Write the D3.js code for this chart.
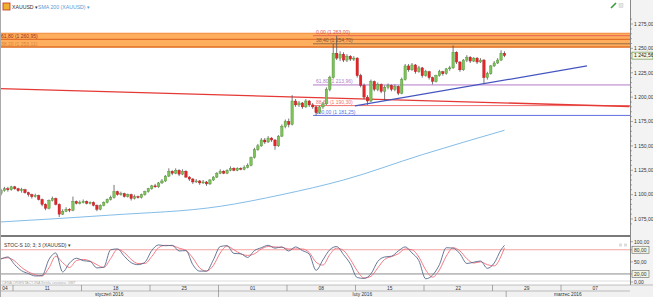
<!DOCTYPE html>
<html><head><meta charset="utf-8">
<script src="https://cdnjs.cloudflare.com/ajax/libs/d3/7.8.5/d3.min.js"></script>
<style>
body{margin:0;background:#fff;}
svg{display:block;font-family:"Liberation Sans",Arial,sans-serif;}
</style></head><body>
<script>
// candles, 4 per trading day, first one on Fri 8 Jan 2016
const opens = [1101,1104,1106,1105,1108,1106,1104,1105,1102,1100,
1098,1099,1095,1090,1086,1094,1096,1090,1080,1083,
1085,1084,1093,1091,1092,1093,1091,1092,1089,1085,
1089,1092,1095,1097,1103,1100,1101,1098,1100,1096,
1098,1097,1100,1103,1106,1109,1108,1112,1114,1119,
1124,1122,1125,1121,1124,1118,1116,1113,1114,1112,
1113,1111,1115,1118,1122,1124,1122,1125,1127,1125,
1127,1126,1128,1130,1138,1146,1150,1156,1154,1158,
1156,1150,1160,1170,1175,1172,1196,1192,1194,1190,
1196,1192,1190,1184,1190,1193,1208,1220,1245,1240,
1244,1238,1242,1239,1240,1222,1212,1200,1196,1216,
1208,1213,1206,1210,1212,1208,1211,1204,1218,1232,
1228,1233,1226,1230,1222,1226,1220,1216,1222,1226,
1224,1229,1230,1246,1236,1228,1238,1241,1237,1240,
1236,1238,1220,1224,1232,1235,1238,1245];
const closes = [1104,1106,1105,1108,1106,1104,1105,1102,1100,1098,
1099,1095,1090,1086,1094,1096,1090,1080,1083,1085,
1084,1093,1091,1092,1093,1091,1092,1089,1085,1089,
1092,1095,1097,1103,1100,1101,1098,1100,1096,1098,
1097,1100,1103,1106,1109,1108,1112,1114,1119,1124,
1122,1125,1121,1124,1118,1116,1113,1114,1112,1113,
1111,1115,1118,1122,1124,1122,1125,1127,1125,1127,
1126,1128,1130,1138,1146,1150,1156,1154,1158,1156,
1150,1160,1170,1175,1172,1196,1192,1194,1190,1196,
1192,1190,1184,1190,1193,1208,1220,1245,1240,1244,
1238,1242,1239,1240,1222,1212,1200,1196,1216,1208,
1213,1206,1210,1212,1208,1211,1204,1218,1232,1228,
1233,1226,1230,1222,1226,1220,1216,1222,1226,1224,
1229,1230,1246,1236,1228,1238,1241,1237,1240,1236,
1238,1220,1224,1232,1235,1238,1245,1242.56];
const highs = [1106,1108,1108,1109,1109,1107,1107,1106,1103,1101,
1101,1100,1096,1091,1095,1098,1097,1091,1085,1087,
1086,1098,1094,1094,1095,1094,1093,1093,1090,1090,
1093,1096,1099,1110,1104,1103,1102,1101,1101,1100,
1099,1101,1104,1107,1110,1111,1113,1116,1120,1127,
1125,1127,1126,1126,1125,1119,1117,1116,1115,1115,
1114,1116,1119,1123,1126,1125,1126,1129,1128,1128,
1128,1130,1132,1139,1148,1152,1158,1158,1160,1159,
1157,1161,1172,1177,1178,1202,1198,1196,1195,1198,
1197,1194,1191,1191,1195,1210,1222,1255,1263,1247,
1246,1244,1243,1242,1241,1224,1214,1202,1218,1217,
1215,1214,1212,1214,1213,1213,1212,1220,1234,1234,
1235,1234,1232,1231,1228,1227,1221,1223,1228,1227,
1230,1232,1253,1247,1237,1239,1243,1242,1241,1241,
1240,1239,1226,1233,1237,1240,1248,1247];
const lows = [1099,1103,1103,1104,1105,1103,1102,1101,1098,1096,
1097,1094,1088,1084,1085,1093,1089,1077,1079,1082,
1082,1083,1090,1090,1091,1090,1090,1088,1083,1084,
1088,1091,1094,1096,1099,1099,1097,1097,1094,1095,
1096,1096,1099,1102,1105,1107,1107,1111,1113,1118,
1120,1121,1119,1120,1117,1114,1111,1112,1110,1111,
1109,1110,1114,1117,1121,1121,1121,1124,1124,1124,
1125,1125,1127,1129,1137,1145,1149,1152,1153,1154,
1146,1149,1159,1168,1169,1171,1190,1190,1188,1189,
1190,1188,1181,1183,1188,1192,1206,1219,1238,1237,
1236,1236,1237,1237,1220,1210,1198,1192,1195,1206,
1206,1204,1197,1208,1206,1206,1202,1203,1217,1226,
1227,1224,1225,1220,1221,1218,1213,1215,1221,1222,
1223,1227,1229,1234,1226,1227,1236,1235,1236,1234,
1235,1214,1218,1223,1231,1234,1237,1241];

// SMA 200 read at a few candles: [candle, price]
const smaPts = [[0,1072],[32,1079],[64,1088],[82,1100],[100,1115],[123,1141],[147,1166]];

// stochastic, one value every 2nd candle
const stochK = [57,62,43,28,21,15,16,56,72,25,47,59,53,51,35,37,80,82,64,48,
43,49,78,92,90,91,77,78,43,27,27,55,88,90,71,70,61,78,85,91,
84,87,77,87,78,69,29,55,80,88,68,45,11,9,20,51,62,64,77,87,
72,53,8,17,43,85,84,70,46,49,52,34,47,80,91];
const stochD = [58,60,52,36,25,18,15,35,64,48,36,53,56,52,43,36,58,81,73,56,
46,46,63,85,91,90,84,78,60,35,27,41,72,89,80,70,66,70,82,88,
87,86,82,82,82,73,49,42,68,84,78,56,28,10,14,35,56,63,70,82,
80,62,30,12,30,64,85,77,58,47,50,43,40,64,85];

// drawn lines: {day, price}, day = trading days from Mon 4 Jan
const redTrend = [{day:4.05, price:1208.8},{day:50, price:1190.4}];
const blueTrend = [{day:29.96, price:1191},{day:46.9, price:1232}];
const fibStart = 26.9;
const fibLevels = [
  {price:1263.0, label:"0,00 (1 263,00)", color:"#d9534f"},
  {price:1254.7, label:"38,40 (1 254,70)", color:"#7a5a3a"},
  {price:1212.5, label:"61,80 (1 213,96)", color:"#b57cc8"},
  {price:1191.3, label:"88,60 (1 190,30)", color:"#f07070"},
  {price:1181.25, label:"100,00 (1 181,25)", color:"#6070e0"}
];
const band = {top:1265.5, bottom:1251};
const bandLevels = [{price:1259.3, label:"61,80 (1 260,95)", color:"#9a2c10"},
                    {price:1251.4, label:"38,20 (1 253,11)", color:"#d8843a"}];

const priceTicks = [1075,1100,1125,1150,1175,1200,1225,1250,1275];
const stochTicks = [100,80,50,20,0];
const weekLabels = ["04","11","18","25","01","08","15","22","29","07"];
const months = [{name:"styczeń 2016", from:-1, to:20},{name:"luty 2016", from:20, to:41},{name:"marzec 2016", from:41, to:50}];
const lastPrice = 1242.56;

const W = 653, H = 297, plotR = 630;
const fmt = v => { let s = v.toFixed(2).replace(".", ","); return s.replace(/^(\d)(\d{3})/, "$1 $2"); };

const svg = d3.select("body").append("svg").attr("width", W).attr("height", H);
svg.append("rect").attr("width", W).attr("height", H).attr("fill", "#fff");

let x = d3.scaleLinear().domain([0, 50]).range([-55.5, 629.5]);
let y = d3.scaleLinear().domain([1075, 1275]).range([219, 24]);
let ys = d3.scaleLinear().domain([0, 100]).range([282, 241.7]);
const dayOf = i => 4 + (i + 0.5) / 4;

// right axis background
svg.append("rect").attr("x", plotR).attr("y", 0).attr("width", W - plotR).attr("height", 285).attr("fill", "#f3f3f3");

svg.append("clipPath").attr("id", "main").append("rect").attr("x", 0).attr("y", 0).attr("width", plotR).attr("height", 235);
const g = svg.append("g").attr("clip-path", "url(#main)");

// orange band
g.append("rect").attr("x", 0).attr("width", plotR).attr("y", y(band.top)).attr("height", y(band.bottom) - y(band.top))
  .attr("fill", "#ffae5e");
g.append("line").attr("x1", 0).attr("x2", plotR).attr("y1", y(band.top)).attr("y2", y(band.top)).attr("stroke", "#f08a38").attr("stroke-width", 1);
bandLevels.forEach(function (d) {
  g.append("line").attr("x1", 0).attr("x2", plotR).attr("y1", y(d.price)).attr("y2", y(d.price))
    .attr("stroke", "#e0702a").attr("stroke-width", 1.3);
  g.append("text").attr("x", 1).attr("y", y(d.price) - 1.5).attr("font-size", 5).attr("fill", d.color).text(d.label);
});

// fibonacci levels
fibLevels.forEach(function (d, k) {
  g.append("line").attr("x1", x(fibStart)).attr("x2", plotR).attr("y1", y(d.price)).attr("y2", y(d.price))
    .attr("stroke", d.color).attr("stroke-width", k < 2 ? 0.8 : 1);
  g.append("text").attr("x", x(fibStart) + 3).attr("y", y(d.price) - 1.8).attr("font-size", 5).attr("fill", d.color).text(d.label);
});

// SMA 200
g.append("path").datum(smaPts)
  .attr("d", d3.line().x(d => x(dayOf(d[0]))).y(d => y(d[1])).curve(d3.curveMonotoneX))
  .attr("fill", "none").attr("stroke", "#84bde8").attr("stroke-width", 1);

// trend lines
const tl = d3.line().x(d => x(d.day)).y(d => y(d.price));
g.append("path").datum(redTrend).attr("d", tl).attr("stroke", "#e53935").attr("stroke-width", 1.3).attr("fill", "none");
g.append("path").datum(blueTrend).attr("d", tl).attr("stroke", "#4455c0").attr("stroke-width", 1.2).attr("fill", "none");

// candles
const idx = d3.range(closes.length);
g.selectAll(".wick").data(idx).enter().append("line")
  .attr("x1", i => x(dayOf(i))).attr("x2", i => x(dayOf(i)))
  .attr("y1", i => y(highs[i])).attr("y2", i => y(lows[i]))
  .attr("stroke", "#555").attr("stroke-width", 0.8);
g.selectAll(".body").data(idx).enter().append("rect")
  .attr("x", i => x(dayOf(i)) - 1.2).attr("width", 2.4)
  .attr("y", i => y(Math.max(opens[i], closes[i])))
  .attr("height", i => Math.max(0.8, Math.abs(y(opens[i]) - y(closes[i]))))
  .attr("fill", i => closes[i] >= opens[i] ? "#7cc457" : "#e8242b")
  .attr("stroke", i => closes[i] >= opens[i] ? "#4e8a34" : "#a81a1a").attr("stroke-width", 0.4);

// price axis
svg.append("line").attr("x1", plotR + 0.5).attr("x2", plotR + 0.5).attr("y1", 0).attr("y2", 285).attr("stroke", "#888");
d3.range(1070, 1281, 5).forEach(function (v) {
  svg.append("line").attr("x1", plotR).attr("x2", plotR + (v % 25 === 0 ? 3 : 2)).attr("y1", y(v)).attr("y2", y(v)).attr("stroke", "#777").attr("stroke-width", 0.6);
});
svg.selectAll(".pt").data(priceTicks).enter().append("text")
  .attr("x", 634).attr("y", d => y(d) + 1.8).attr("font-size", 5).attr("fill", "#333").text(fmt);
svg.append("rect").attr("x", 632).attr("y", y(lastPrice) - 3.5).attr("width", 21).attr("height", 7)
  .attr("fill", "#f4f6e4").attr("stroke", "#5d8a3c").attr("stroke-width", 0.6);
svg.append("text").attr("x", 634).attr("y", y(lastPrice) + 1.8).attr("font-size", 5).attr("fill", "#222").text(fmt(lastPrice));

// header
svg.append("rect").attr("x", 3).attr("y", 3).attr("width", 7).attr("height", 7).attr("fill", "#f0b030").attr("stroke", "#c03020").attr("stroke-width", 0.8);
svg.append("text").attr("x", 12).attr("y", 8.8).attr("font-size", 5.2).attr("fill", "#333").text("XAUUSD ▾");
svg.append("text").attr("x", 38).attr("y", 8.8).attr("font-size", 5.2).attr("fill", "#5b9bd5").text("SMA 200 (XAUUSD) ▾");
svg.append("path").attr("d", "M611,8 L616,3").attr("stroke", "#3a9a3a").attr("stroke-width", 1.6);
svg.append("rect").attr("x", 619).attr("y", 3.5).attr("width", 4).attr("height", 4).attr("fill", "#e6e6e6").attr("stroke", "#ccc").attr("stroke-width", 0.5);

// panel separator
svg.append("rect").attr("x", 0).attr("y", 235).attr("width", plotR).attr("height", 2).attr("fill", "#7a7a7a");

// stochastic panel
svg.append("line").attr("x1", 0).attr("x2", plotR).attr("y1", ys(80)).attr("y2", ys(80)).attr("stroke", "#f4a3a3").attr("stroke-width", 1.2);
svg.append("line").attr("x1", 0).attr("x2", plotR).attr("y1", ys(20)).attr("y2", ys(20)).attr("stroke", "#6f6f6f").attr("stroke-width", 0.8);
svg.append("line").attr("x1", 0).attr("x2", plotR).attr("y1", 281).attr("y2", 281).attr("stroke", "#c8c8c8").attr("stroke-width", 0.6);
const sl = d3.line().x((d, j) => x(dayOf(Math.min(2 * j, 147)))).y(d => ys(d)).curve(d3.curveMonotoneX);
svg.append("path").datum(stochD).attr("d", sl).attr("fill", "none").attr("stroke", "#f26b77").attr("stroke-width", 0.9);
svg.append("path").datum(stochK).attr("d", sl).attr("fill", "none").attr("stroke", "#55698a").attr("stroke-width", 0.9);
svg.append("text").attr("x", 4).attr("y", 247).attr("font-size", 5).attr("fill", "#333").text("STOC-S 10; 3; 3 (XAUUSD) ▾");
svg.append("rect").attr("x", 619).attr("y", 243.5).attr("width", 3).attr("height", 3).attr("fill", "#ddd");
svg.append("rect").attr("x", 624).attr("y", 243.5).attr("width", 3).attr("height", 3).attr("fill", "#ddd");
stochTicks.forEach(function (v) {
  svg.append("line").attr("x1", plotR).attr("x2", plotR + 3).attr("y1", ys(v)).attr("y2", ys(v)).attr("stroke", "#777").attr("stroke-width", 0.6);
  if (v === 80 || v === 20) {
    svg.append("rect").attr("x", 632).attr("y", ys(v) - 3.5).attr("width", 17).attr("height", 7)
      .attr("fill", "#f4f6e4").attr("stroke", "#666").attr("stroke-width", 0.6);
  }
  svg.append("text").attr("x", 634).attr("y", ys(v) + 1.8).attr("font-size", 5).attr("fill", "#333").text(fmt(v));
});
svg.append("text").attr("x", 2).attr("y", 284.3).attr("font-size", 3.6).attr("fill", "#aaa").text("CENA ORIENTACYJNA     Strefa czasowa: GMT");

// time axis
svg.append("rect").attr("x", 0).attr("y", 285).attr("width", W).attr("height", 12).attr("fill", "#f1f1f1");
svg.append("line").attr("x1", 0).attr("x2", W).attr("y1", 285).attr("y2", 285).attr("stroke", "#999").attr("stroke-width", 0.6);
svg.append("line").attr("x1", 0).attr("x2", plotR).attr("y1", 291).attr("y2", 291).attr("stroke", "#999").attr("stroke-width", 0.6);
weekLabels.forEach(function (lab, k) {
  const d0 = k * 5;
  if (x(d0) > 0) svg.append("line").attr("x1", x(d0)).attr("x2", x(d0)).attr("y1", 285).attr("y2", 291).attr("stroke", "#777").attr("stroke-width", 0.6);
  svg.append("text").attr("x", Math.max(x(d0 + 2.5), 5)).attr("y", 289.8).attr("font-size", 4.8)
    .attr("text-anchor", "middle").attr("fill", "#333").text(lab);
});
months.forEach(function (m) {
  const a = Math.max(0, x(m.from)), b = Math.min(plotR, x(m.to));
  if (m.from > 0) svg.append("line").attr("x1", a).attr("x2", a).attr("y1", 291).attr("y2", 297).attr("stroke", "#777").attr("stroke-width", 0.6);
  svg.append("text").attr("x", (a + b) / 2).attr("y", 295.8).attr("font-size", 4.8).attr("text-anchor", "middle").attr("fill", "#333").text(m.name);
});
svg.append("line").attr("x1", 0.5).attr("x2", 0.5).attr("y1", 0).attr("y2", H).attr("stroke", "#aaa");
</script></body></html>
